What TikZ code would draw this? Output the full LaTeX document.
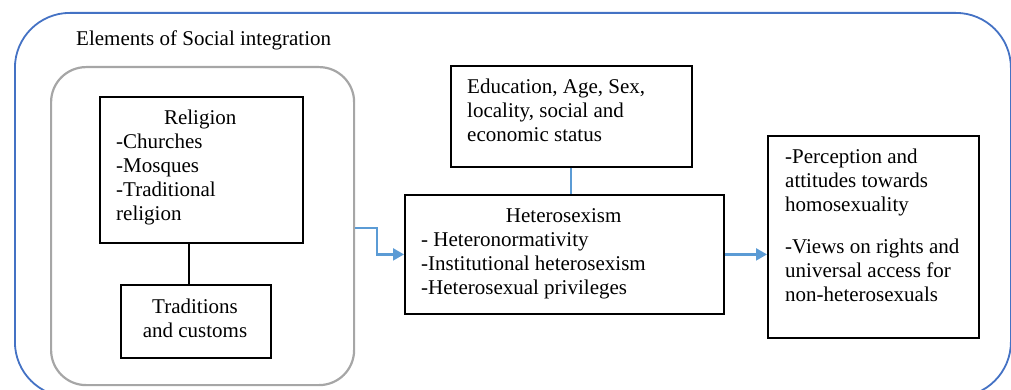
\documentclass[tikz,border=0pt]{standalone}
\usepackage{fontspec}
\setmainfont{Liberation Serif}
\usetikzlibrary{arrows.meta}
\definecolor{outerblue}{RGB}{68,114,196}
\definecolor{arrowblue}{RGB}{91,155,213}
\definecolor{boxgray}{RGB}{166,166,166}
\begin{document}
\begin{tikzpicture}[x=1pt,y=-1pt,
  every node/.style={font=\fontsize{21}{24}\selectfont},
  box/.style={draw=black,line width=1.8pt,anchor=north west,inner sep=0pt},
  txt/.style={inner sep=0pt,anchor=base west,align=left},
  ctxt/.style={inner sep=0pt,anchor=base,align=center},
  flow/.style={draw=arrowblue,line width=2.2pt,-{Triangle[length=11pt,width=12pt]}},
  link/.style={draw=arrowblue,line width=2pt},
  thick link/.style={draw=black,line width=2.6pt}]
\useasboundingbox (0,0) rectangle (1011,390);
\clip (0,0) rectangle (1011,390);
% outer frame
\node[draw=outerblue,line width=1.8pt,rounded corners=55pt,anchor=north west,inner sep=0pt,
      minimum width=996pt,minimum height=384pt] (outer) at (14,12) {};
\node[txt] (title) at (76,46) {Elements of Social integration};
% inner gray frame
\node[draw=boxgray,line width=2.2pt,rounded corners=35pt,anchor=north west,inner sep=0pt,
      minimum width=303pt,minimum height=318pt] (gray) at (50,66) {};
% religion
\node[box,minimum width=203pt,minimum height=146pt] (rel) at (99,96) {};
\node[txt] (relt) at (116,220) {\makebox[168pt][c]{Religion}\\-Churches\\-Mosques\\-Traditional\\religion};
% traditions
\node[box,minimum width=150pt,minimum height=73pt] (trad) at (120,284) {};
\node[ctxt] (tradt) at (195,337) {Traditions\\and customs};
\coordinate (c1) at (189,0);
\draw[thick link] (rel.south -| c1) -- (trad.north -| c1);
% education
\node[box,minimum width=241pt,minimum height=101pt] (edu) at (450,65) {};
\node[txt] (edut) at (467,141.5) {Education, Age, Sex,\\locality, social and\\economic status};
% heterosexism
\node[box,minimum width=319pt,minimum height=119pt] (het) at (404,194) {};
\node[txt] (hett) at (421,294) {\makebox[285pt][c]{Heterosexism}\\- Heteronormativity\\-Institutional heterosexism\\-Heterosexual privileges};
% outcome
\node[box,minimum width=211pt,minimum height=202pt] (out) at (767,135) {};
\node[txt] (outt) at (785,301) {-Perception and\\attitudes towards\\homosexuality\\[18pt]-Views on rights and\\universal access for\\non-heterosexuals};
% connectors
\draw[link] (edu.south) -- (het.north -| edu.south);
\coordinate (a1) at (377,228);
\draw[flow] (a1 -| gray.east) -- (a1) |- (het.west);
\draw[flow] (het.east) -- (het.east -| out.west);
\end{tikzpicture}
\end{document}
